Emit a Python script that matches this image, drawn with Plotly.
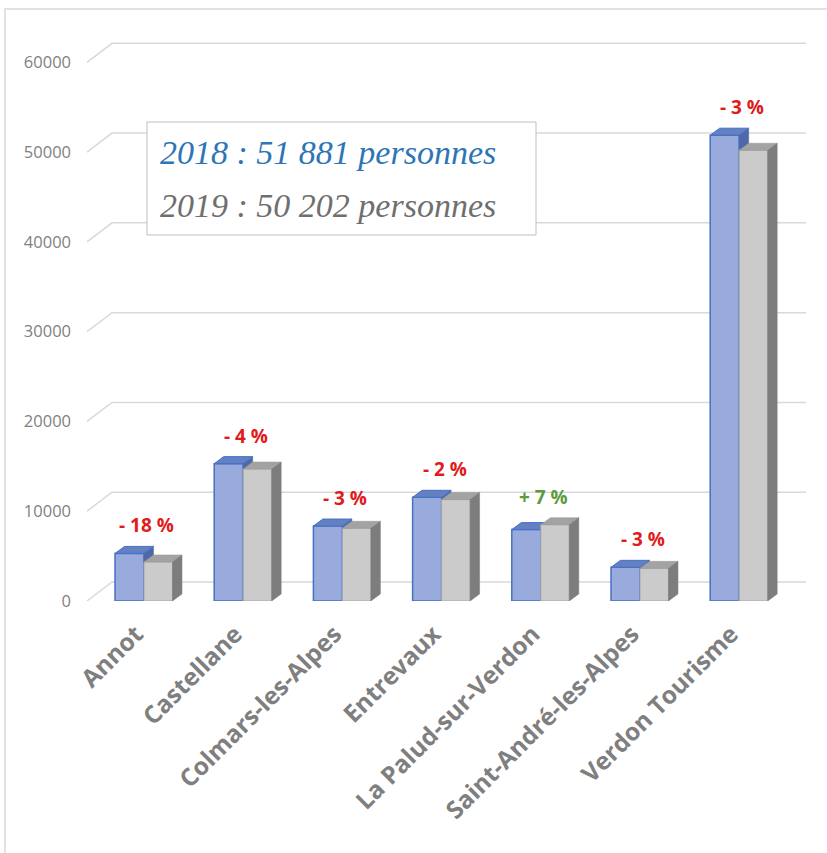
import plotly.graph_objects as go

# ---------------- data ----------------
categories = ["Annot", "Castellane", "Colmars-les-Alpes", "Entrevaux",
              "La Palud-sur-Verdon", "Saint-André-les-Alpes", "Verdon Tourisme"]
visits_2018 = [5300, 15300, 8350, 11550, 7950, 3750, 51881]
visits_2019 = [4350, 14700, 8100, 11300, 8500, 3640, 50202]
change_labels = ["- 18 %", "- 4 %", "- 3 %", "- 2 %", "+ 7 %", "- 3 %", "- 3 %"]
y_ticks = [0, 10000, 20000, 30000, 40000, 50000, 60000]
total_lines = ["2018 : 51 881 personnes", "2019 : 50 202 personnes"]

# ---------------- geometry (pixels -> data units) ----------------
W, H = 827, 853
L, RPX = 82, 810          # plot area left / right in px
T, B = 35, 252            # margins
PX_CAT = 99.2             # px per category
X0PX = 144                # px of first category centre
KY = 538.7 / 60000.0      # px per unit on y
plot_h = H - T - B
plot_w = RPX - L
xr = [(L - X0PX) / PX_CAT, (RPX - X0PX) / PX_CAT]
yr = [0, plot_h / KY]

def dxu(p):
    return p / PX_CAT

def dyu(p):
    return p / KY

bw_blue = dxu(29)
bw_gray = dxu(28.5)
ddx = dxu(9.5)
ddy = dyu(7)

n = len(categories)
xs = list(range(n))

fig = go.Figure()

# ---------------- gridlines (3D back wall) ----------------
gx, gy = [], []
gfx, gbx, grx = dxu(87 - X0PX), dxu(112 - X0PX), dxu(806 - X0PX)
for v in y_ticks:
    gx += [gfx, gbx, grx, None]
    gy += [v, v + dyu(19), v + dyu(19), None]
fig.add_trace(go.Scatter(x=gx, y=gy, mode="lines",
                         line=dict(color="#d9d9d9", width=1.5),
                         hoverinfo="skip", zorder=-2))

# ---------------- blue (2018) ----------------
bt_x, bt_y, bs_x, bs_y = [], [], [], []
for i, b in zip(xs, visits_2018):
    bt_x += [i - bw_blue, i, i + ddx, i - bw_blue + ddx, i - bw_blue, None]
    bt_y += [b, b, b + ddy, b + ddy, b, None]
    bs_x += [i, i + ddx, i + ddx, i, i, None]
    bs_y += [0, ddy, b + ddy, b, 0, None]

fig.add_trace(go.Bar(x=xs, y=visits_2018, width=bw_blue, offset=-bw_blue,
                     marker=dict(color="#99abdc", line=dict(color="#4472c4", width=1.5)),
                     hoverinfo="skip", zorder=0))
fig.add_trace(go.Scatter(x=bs_x, y=bs_y, mode="lines", fill="toself",
                         fillcolor="#4f68a8", line=dict(color="#4f68a8", width=0.5),
                         hoverinfo="skip", zorder=0))
fig.add_trace(go.Scatter(x=bt_x, y=bt_y, mode="lines", fill="toself",
                         fillcolor="#6580c2", line=dict(color="#4472c4", width=1),
                         hoverinfo="skip", zorder=0))

# ---------------- gray (2019) ----------------
gt_x, gt_y, gs_x, gs_y = [], [], [], []
for i, g in zip(xs, visits_2019):
    gt_x += [i, i + bw_gray, i + bw_gray + ddx, i + ddx, i, None]
    gt_y += [g, g, g + ddy, g + ddy, g, None]
    gs_x += [i + bw_gray, i + bw_gray + ddx, i + bw_gray + ddx, i + bw_gray, i + bw_gray, None]
    gs_y += [0, ddy, g + ddy, g, 0, None]

fig.add_trace(go.Bar(x=xs, y=visits_2019, width=bw_gray, offset=0,
                     marker=dict(color="#cbcbcb", line=dict(color="#a8a8a8", width=1)),
                     hoverinfo="skip", zorder=1))
fig.add_trace(go.Scatter(x=gt_x, y=gt_y, mode="lines", fill="toself",
                         fillcolor="#a3a3a3", line=dict(color="#999999", width=0.5),
                         hoverinfo="skip", zorder=2))
fig.add_trace(go.Scatter(x=gs_x, y=gs_y, mode="lines", fill="toself",
                         fillcolor="#7d7d7d", line=dict(color="#7d7d7d", width=0.5),
                         hoverinfo="skip", zorder=2))

# ---------------- percentage labels ----------------
for i, (b, g, lab) in enumerate(zip(visits_2018, visits_2019, change_labels)):
    col = "#5e9a3c" if lab.startswith("+") else "#e01b1b"
    fig.add_annotation(x=i + 0.03, y=max(b, g) + ddy, text=lab, showarrow=False,
                       yanchor="bottom", yshift=6,
                       font=dict(family="Open Sans", size=19, color=col, weight="bold"))

# ---------------- total box ----------------
def px2paper_x(p):
    return (p - L) / plot_w

def px2paper_y(p):
    return (H - B - p) / plot_h

fig.add_shape(type="rect", xref="paper", yref="paper",
              x0=px2paper_x(147), x1=px2paper_x(536),
              y0=px2paper_y(235), y1=px2paper_y(122),
              line=dict(color="#bfbfbf", width=1), fillcolor="white", layer="above")
fig.add_annotation(xref="paper", yref="paper", x=px2paper_x(158), y=px2paper_y(152),
                   xanchor="left", yanchor="middle", showarrow=False, text=total_lines[0],
                   font=dict(family="Liberation Serif", size=34, color="#2e75b6", style="italic"))
fig.add_annotation(xref="paper", yref="paper", x=px2paper_x(158), y=px2paper_y(205),
                   xanchor="left", yanchor="middle", showarrow=False, text=total_lines[1],
                   font=dict(family="Liberation Serif", size=34, color="#6f6f6f", style="italic"))

# outer frame (left / top edge visible)
fig.add_shape(type="rect", xref="paper", yref="paper",
              x0=px2paper_x(5), x1=px2paper_x(840),
              y0=px2paper_y(870), y1=px2paper_y(9),
              line=dict(color="#d9d9d9", width=1.5), fillcolor="rgba(0,0,0,0)", layer="below")

fig.update_layout(
    width=W, height=H,
    margin=dict(l=L, r=W - RPX, t=T, b=B, pad=0),
    paper_bgcolor="white", plot_bgcolor="white",
    showlegend=False, hovermode=False,
    barmode="overlay",
    xaxis=dict(range=xr, tickvals=xs, ticktext=categories, tickangle=-45,
               showgrid=False, zeroline=False, showline=False, ticks="",
               tickfont=dict(family="Open Sans", size=24.5, color="#7f7f7f", weight="bold"),
               ticklabelstandoff=13, ticklabelshift=-8),
    yaxis=dict(range=yr, tickvals=y_ticks, ticktext=[str(v) for v in y_ticks],
               showgrid=False, zeroline=False, showline=False, ticks="",
               tickfont=dict(family="Open Sans", size=16.5, color="#7f7f7f"),
               ticklabelstandoff=10),
)

fig.write_html("out.html", config={"displayModeBar": False},
               post_script="document.body.style.margin='0';document.body.style.overflow='hidden';")
